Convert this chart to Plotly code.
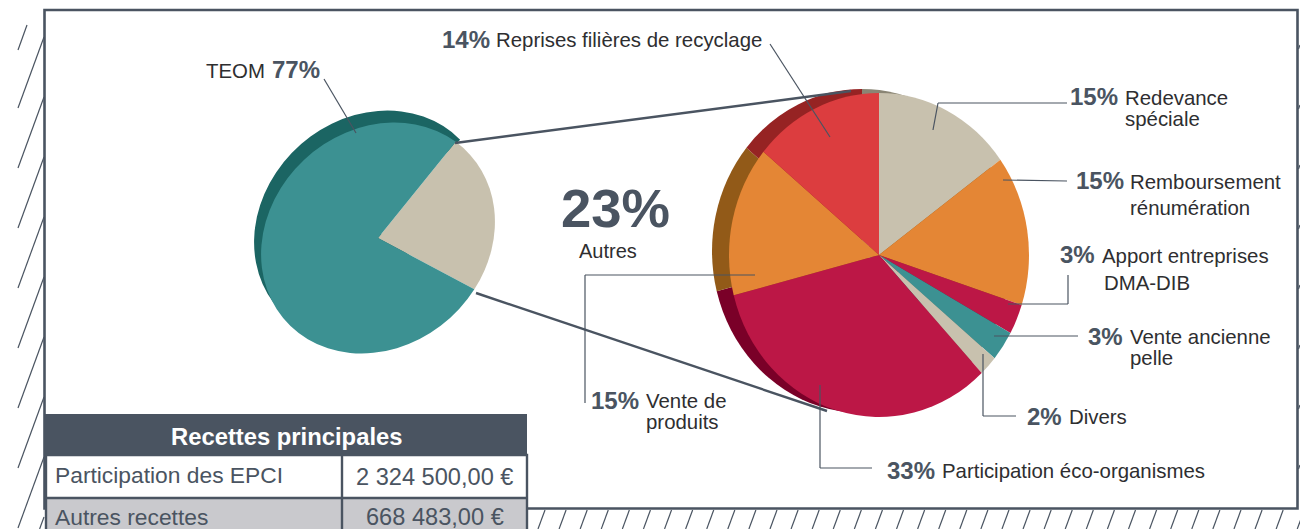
import plotly.graph_objects as go

# ---- data ----
share_labels = ["Autres", "TEOM"]
share_values = [23, 77]
share_colors = ["#c8c1ae", "#3c9192"]
share_rim_colors = ["rgba(0,0,0,0)", "#1b6563"]

detail_labels = ["Redevance spéciale", "Remboursement rénumération", "Apport entreprises DMA-DIB",
                 "Vente ancienne pelle", "Divers", "Participation éco-organismes",
                 "Vente de produits", "Reprises filières de recyclage"]
detail_values = [15, 15, 3, 3, 2, 33, 15, 14]
detail_colors = ["#c8c1ae", "#e48635", "#bc1746", "#3c9192", "#c8c1ae", "#bc1746", "#e48635", "#dc3d3f"]
detail_rim_colors = ["#8a8574", "#925a18", "#7a0028", "#1b6563", "#8a8574", "#7a0028", "#925a18", "#962323"]

pct_texts = ["77%", "14%", "15%", "15%", "3%", "3%", "2%", "33%", "15%"]
name_texts = ["Reprises filières de recyclage", "Redevance", "spéciale", "Remboursement", "rénumération",
              "Apport entreprises", "DMA-DIB", "Vente ancienne", "pelle", "Divers",
              "Participation éco-organismes", "Vente de", "produits"]
table_title = "Recettes principales"
table_names = ["Participation des EPCI", "Autres recettes"]
table_amounts = ["2 324 500,00 €", "668 483,00 €"]

# ---- layout constants ----
W, H = 1300, 529
INK = "#4a5461"
TXT = "#2e2e30"
FONT = "Liberation Sans"

def px(x):
    return x / W

def py(y):
    return 1 - y / H

def dom(cx, cy, r):
    return dict(x=[px(cx - r), px(cx + r)], y=[py(cy + r), py(cy - r)])

def pie(values, labels, colors, cx, cy, r, rotation):
    return go.Pie(values=values, labels=labels, domain=dom(cx, cy, r), rotation=rotation, sort=False,
                  direction="clockwise", textinfo="none", showlegend=False, hoverinfo="label+percent",
                  marker=dict(colors=colors, line=dict(width=0)))

R_RIGHT = 162
STRETCH = 150 / 162
CX_FRONT, CX_BACK = 879, 862
CY_FRONT, CY_BACK = 255, 251
L_FRONT = (378, 238)
L_BACK = (371, 226)

fig = go.Figure()
fig.add_trace(pie(share_values, share_labels, share_rim_colors, L_BACK[0], L_BACK[1], 117, 45))
fig.add_trace(pie(share_values, share_labels, share_colors, L_FRONT[0], L_FRONT[1], 117, 37))
fig.add_trace(pie(detail_values, detail_labels, detail_rim_colors, CX_BACK, CY_BACK, R_RIGHT, 0))
fig.add_trace(pie(detail_values, detail_labels, detail_colors, CX_FRONT, CY_FRONT, R_RIGHT, 0))

shapes = []

def line(pts, width=1.2, color=INK):
    for (x0, y0), (x1, y1) in zip(pts, pts[1:]):
        shapes.append(dict(type="line", xref="paper", yref="paper", x0=px(x0), y0=py(y0), x1=px(x1), y1=py(y1),
                           line=dict(color=color, width=width)))

def rect(x0, y0, x1, y1, fill=None, width=0):
    shapes.append(dict(type="rect", xref="paper", yref="paper", x0=px(x0), y0=py(y0), x1=px(x1), y1=py(y1),
                       fillcolor=fill if fill else "rgba(0,0,0,0)",
                       line=dict(color=INK, width=width)))

# hatching
line([(27, 25), (18, 50)])
for y0 in range(37, 518, 60):
    y1 = min(y0 + 71, 529)
    line([(44, y0), (44 - (y1 - y0) * 26 / 71, y1)])
for k in range(37):
    line([(545 + 21.09 * k, 510), (538 + 21.09 * k, 529)])
for y0 in range(45, 500, 60):
    line([(1300, y0), (1298.5, y0 + 4)])

# frame
rect(44.5, 10, 1297.5, 508.5, width=2.6)

# connectors and leaders
line([(455, 143), (851, 91)], width=2.4)
line([(476, 293), (827, 411)], width=2.4)
line([(324, 79), (356, 133)])
line([(770, 44), (830, 137)])
line([(933, 130), (938, 103), (1067, 103)])
line([(1003, 180), (1067, 181)])
line([(1008, 304), (1068, 304), (1068, 275)])
line([(994, 336), (1078, 336)])
line([(983, 354), (983, 416), (1016, 416)])
line([(820, 385), (820, 468), (872, 468)])
line([(755, 275), (585, 275), (585, 403)])

# table
rect(45, 414, 527, 455, fill=INK)
rect(45, 498, 527, 535, fill="#c9c9cd")
rect(46, 455, 527, 535, width=2.4)
line([(342, 455), (342, 529)], width=2.4)
line([(45, 498), (527, 498)], width=2.4)

annotations = []

def text(x, y, s, size=20.4, color=TXT, bold=False, anchor="left"):
    annotations.append(dict(xref="paper", yref="paper", x=px(x), y=py(y), text=f"<b>{s}</b>" if bold else s,
                            showarrow=False, xanchor=anchor, yanchor="middle", borderpad=0, borderwidth=0,
                            font=dict(family=FONT, size=size, color=color)))

pct_pos = [(272, 70), (442, 39), (1070, 97), (1076, 181), (1060, 255), (1088, 336), (1027, 416), (887, 470), (591, 400)]
for s, (x, y) in zip(pct_texts, pct_pos):
    text(x, y, s, size=24, color=INK, bold=True)

name_pos = [(496, 40), (1125, 98), (1125, 119), (1130, 182), (1130, 208), (1102, 256), (1104, 283),
            (1130, 337), (1130, 358), (1069, 417), (942, 471), (646, 401), (646, 422)]
for s, (x, y) in zip(name_texts, name_pos):
    text(x, y, s)

text(206, 71, "TEOM")
text(561, 208.5, f"{share_values[0]}%", size=54.5, color=INK, bold=True)
text(579, 251, share_labels[0], size=20)

text(286.5, 436, table_title, size=23.8, color="#ffffff", bold=True, anchor="center")
for s, y in zip(table_names, (475, 516.5)):
    text(55, y, s, size=22.8, color=INK)
for s, y in zip(table_amounts, (477, 516.5)):
    text(434.5, y, s, size=23.6, color=INK, anchor="center")

fig.update_layout(width=W, height=H, margin=dict(l=0, r=0, t=0, b=0), paper_bgcolor="#ffffff",
                  plot_bgcolor="#ffffff", showlegend=False, shapes=shapes, annotations=annotations,
                  font=dict(family=FONT))

# the pies in the source are drawn as tilted ellipses: linear part applied around each pie's own centre
LEFT_TILT = (0.996, -0.0585, -0.0819, 0.985)
RIGHT_TILT = (STRETCH, 0, 0, 1)
tilts = [(L_BACK, LEFT_TILT), (L_FRONT, LEFT_TILT), ((CX_BACK, CY_BACK), RIGHT_TILT), ((CX_FRONT, CY_FRONT), RIGHT_TILT)]
js_tilts = ",".join("[%f,%f,%f,%f,%f,%f]" % (c[0], c[1], m[0], m[1], m[2], m[3]) for c, m in tilts)

post = """
document.body.style.margin = '0';
var gd = document.getElementById('{plot_id}');
var traces = gd.querySelectorAll('.pielayer .trace');
[%s].forEach(function (t, i) {
  if (traces[i]) traces[i].setAttribute('transform',
    'translate(' + t[0] + ',' + t[1] + ') matrix(' + t.slice(2).join(',') + ',0,0) translate(' + (-t[0]) + ',' + (-t[1]) + ')');
});
""" % js_tilts

fig.write_html("out.html", post_script=post, config=dict(displayModeBar=False))
